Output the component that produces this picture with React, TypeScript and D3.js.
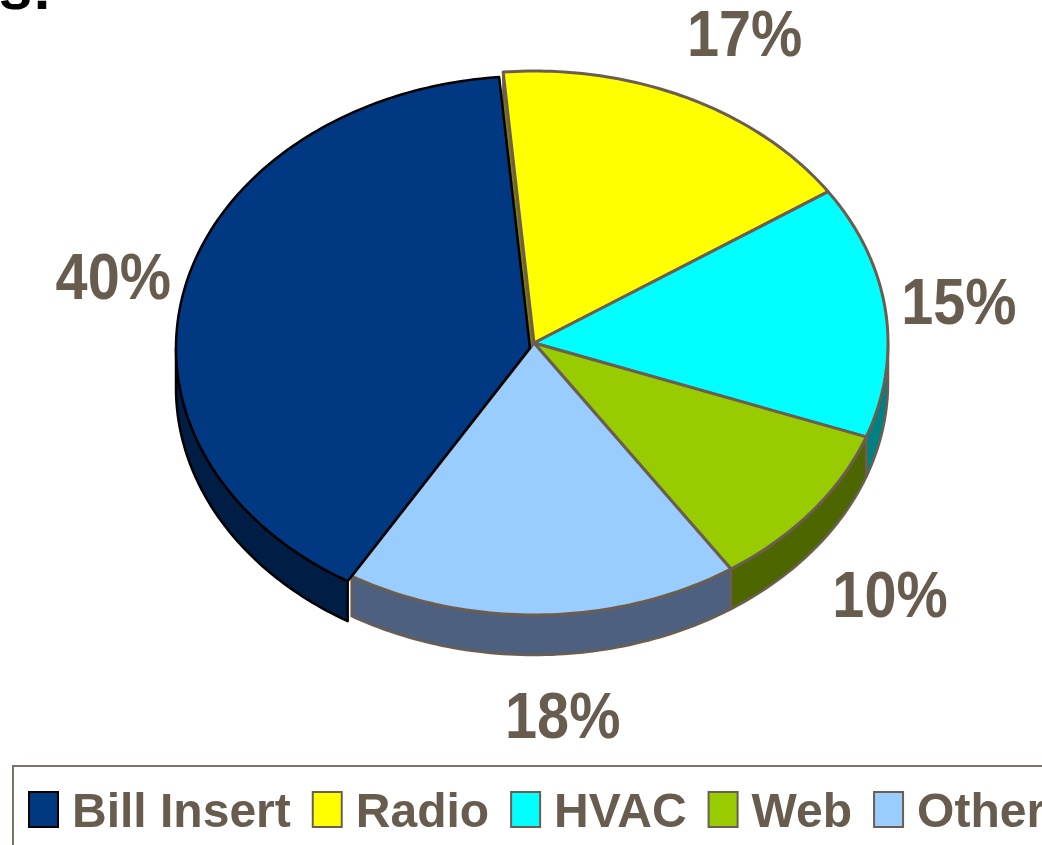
import * as d3 from 'd3';
import React, { useRef, useEffect } from 'react';

// chart data
const categories = ["Bill Insert", "Radio", "HVAC", "Web", "Other"];
const shares = [40, 17, 15, 10, 18];
const shareLabels = ["40%", "17%", "15%", "10%", "18%"];

const topColors = ["#003882", "#ffff00", "#00ffff", "#99cc00", "#99ccff"];
const sideColors = ["#001e45", "#808000", "#008080", "#4d6600", "#4d607f"];
const edgeColors = ["#000000", "#6b5e50", "#6b5e50", "#6b5e50", "#6b5e50"];

const W = 1042;
const H = 845;
const TEXT = "#685c4f";

// small hand adjustments of the percent labels (like a dragged label in the original)
const labelNudge = [[11, 5], [21, -2], [-11, -2], [11, 25], [18, 6]];

function App() {
    const ref = useRef<SVGSVGElement>(null);

    useEffect(() => {
        const svg = d3.select(ref.current);
        svg.selectAll("*").remove();

        const cx = 534, cy = 343, rx = 354, ry = 272, depth = 40;
        const deg = Math.PI / 180;
        // Bill Insert is pulled out a little
        const offsets = [[-4, 5], [0, 0], [0, 0], [0, 0], [0, 0]];

        const arcs = d3.pie<number>().sort(null)
            .startAngle(-149 * deg).endAngle(211 * deg)(shares);

        const pt = (a: number, dy = 0): [number, number] =>
            [cx + rx * Math.sin(a), cy - ry * Math.cos(a) + dy];
        const line = d3.line<[number, number]>();
        const sample = (a0: number, a1: number, dy = 0) => {
            const n = Math.max(2, Math.ceil(Math.abs(a1 - a0) / deg));
            const s = d3.scaleLinear().domain([0, n]).range([a0, a1]);
            return d3.range(n + 1).map(i => pt(s(i), dy));
        };

        // title remnant
        svg.append("text")
            .attr("x", 52).attr("y", 9)
            .attr("text-anchor", "end")
            .attr("font-family", "'Liberation Sans', Arial, sans-serif")
            .attr("font-weight", "bold").attr("font-size", 60)
            .attr("fill", "#000").text("s:");

        const pieG = svg.append("g");

        const norm = arcs.map(d => {
            let a0 = d.startAngle, a1 = d.endAngle;
            if (a0 < 0) { a0 += 2 * Math.PI; a1 += 2 * Math.PI; }
            return [a0, a1];
        });

        // outer side walls (front half only)
        const order = [1, 2, 3, 4, 0];
        order.forEach(i => {
            const [a0, a1] = norm[i];
            const lo = Math.max(a0, Math.PI / 2), hi = Math.min(a1, 1.5 * Math.PI);
            if (hi <= lo) return;
            const pts = [...sample(lo, hi), ...sample(hi, lo, depth)];
            pieG.append("path")
                .attr("transform", `translate(${offsets[i][0]},${offsets[i][1]})`)
                .attr("d", line(pts) + "Z")
                .attr("fill", sideColors[i])
                .attr("stroke", edgeColors[i])
                .attr("stroke-width", 2.5)
                .attr("stroke-linejoin", "round");
        });

        // cut face of Radio visible in the gap
        const r0 = arcs[1].startAngle;
        pieG.append("path")
            .attr("d", line([[cx, cy], pt(r0), pt(r0, depth), [cx, cy + depth]]) + "Z")
            .attr("fill", sideColors[1])
            .attr("stroke", edgeColors[1])
            .attr("stroke-width", 2)
            .attr("stroke-linejoin", "round");

        // top faces
        order.forEach(i => {
            const d = arcs[i];
            const pts: [number, number][] = [[cx, cy], ...sample(d.startAngle, d.endAngle)];
            pieG.append("path")
                .attr("transform", `translate(${offsets[i][0]},${offsets[i][1]})`)
                .attr("d", line(pts) + "Z")
                .attr("fill", topColors[i])
                .attr("stroke", edgeColors[i])
                .attr("stroke-width", i === 0 ? 2.5 : 3)
                .attr("stroke-linejoin", "round");
        });

        // percentage labels
        arcs.forEach((d, i) => {
            const m = (d.startAngle + d.endAngle) / 2;
            const c = Math.cos(m), s = Math.sin(m);
            const x = cx + offsets[i][0] + (rx + 85) * s + labelNudge[i][0];
            const y = cy + offsets[i][1] - (ry + 70) * c + (c < 0 ? -c * 24 : 0) + labelNudge[i][1];
            svg.append("text")
                .attr("transform", `translate(${x},${y + 23}) scale(0.9,1)`)
                .attr("text-anchor", "middle")
                .attr("font-family", "'Liberation Sans', Arial, sans-serif")
                .attr("font-weight", "bold").attr("font-size", 64)
                .attr("fill", TEXT)
                .text(shareLabels[i]);
        });

        // legend
        const lg = svg.append("g");
        lg.append("rect")
            .attr("x", 13).attr("y", 766)
            .attr("width", W + 50).attr("height", 200)
            .attr("fill", "#fff")
            .attr("stroke", "#7d7465").attr("stroke-width", 2);

        let lx = 29;
        const sx = 0.98;
        categories.forEach((name, i) => {
            lg.append("rect")
                .attr("x", lx).attr("y", 792)
                .attr("width", 29).attr("height", 35)
                .attr("fill", topColors[i])
                .attr("stroke", i === 0 ? "#000" : "#6b5e50")
                .attr("stroke-width", 2);
            const t = lg.append("text")
                .attr("transform", `translate(${lx + 43},827) scale(${sx},1)`)
                .attr("font-family", "'Liberation Sans', Arial, sans-serif")
                .attr("font-weight", "bold").attr("font-size", 49)
                .attr("fill", TEXT)
                .text(name);
            const w = (t.node() as SVGTextElement).getComputedTextLength() * sx;
            lx += 43 + w + 22;
        });
    }, []);

    return (
        <svg ref={ref} width={W} height={H}
            style={{ position: "absolute", left: 0, top: 0, background: "#fff" }}>
        </svg>
    );
}

export default App;
